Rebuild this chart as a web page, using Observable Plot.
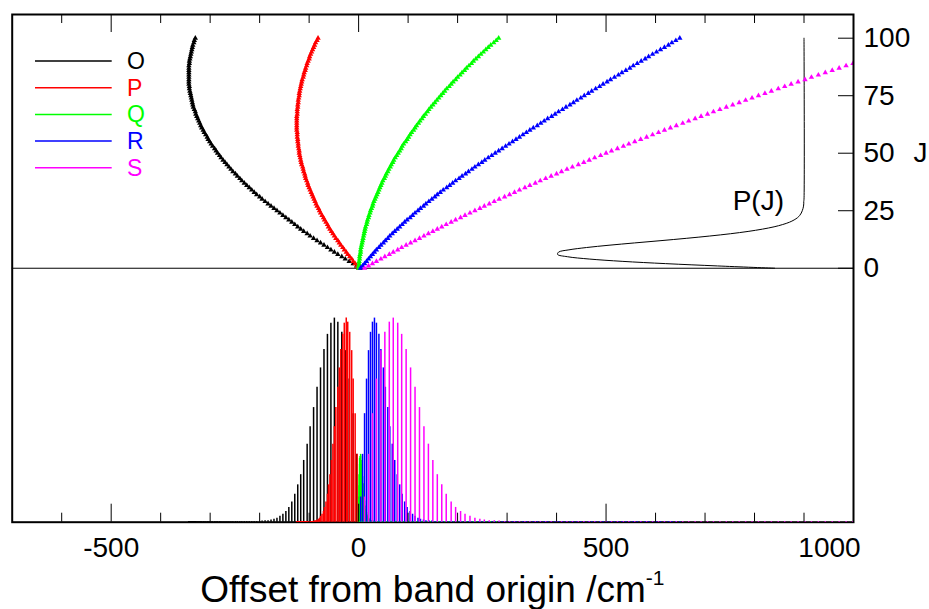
<!DOCTYPE html>
<html><head><meta charset="utf-8">
<script src="https://cdn.jsdelivr.net/npm/d3@7"></script>
<script src="https://cdn.jsdelivr.net/npm/@observablehq/plot@0.6"></script>
<style>
html,body{margin:0;padding:0;background:#fff;}
#chart{position:relative;width:929px;height:609px;}
</style></head><body><div id="chart"></div>
<script>
// ---- data ----
const J = d3.range(0, 101);
const branchNames = ["O", "P", "Q", "R", "S"];
const branchColors = ["#000000", "#ff0000", "#00ff00", "#0000ff", "#ff00ff"];

// line positions (cm^-1) for J = 0..100
const oBranch = [4, -4, -11, -19, -27, -34, -42, -49, -56, -63,
  -70, -77, -84, -91, -98, -104, -111, -117, -123, -129,
  -135, -141, -147, -153, -159, -165, -171, -177, -183, -189,
  -195, -200, -206, -211, -216, -221, -226, -231, -236, -240,
  -245, -249, -254, -258, -262, -266, -270, -274, -278, -281,
  -285, -288, -291, -295, -298, -301, -304, -306, -309, -312,
  -314, -317, -319, -321, -323, -325, -327, -329, -330, -332,
  -334, -335, -336, -337, -338, -339, -340, -341, -342, -342,
  -343, -343, -343, -343, -343, -343, -343, -343, -343, -342,
  -342, -341, -340, -339, -338, -337, -336, -335, -333, -332,
  -330];
const pBranch = [0, -3, -7, -11, -14, -18, -22, -25, -29, -32,
  -36, -39, -42, -46, -49, -52, -55, -58, -61, -63,
  -66, -69, -71, -74, -77, -79, -81, -84, -86, -88,
  -90, -92, -94, -96, -98, -100, -102, -103, -105, -107,
  -108, -109, -111, -112, -113, -115, -116, -117, -118, -119,
  -120, -120, -121, -122, -122, -123, -123, -124, -124, -124,
  -125, -125, -125, -125, -125, -125, -125, -124, -124, -124,
  -123, -123, -122, -122, -121, -120, -120, -119, -118, -117,
  -116, -115, -114, -112, -111, -110, -108, -107, -105, -104,
  -102, -100, -99, -97, -95, -93, -91, -89, -87, -84,
  -82];
const qBranch = [0, 0, 1, 1, 2, 2, 3, 4, 4, 5,
  6, 7, 8, 9, 10, 11, 12, 13, 14, 16,
  17, 18, 20, 21, 23, 24, 26, 28, 29, 31,
  33, 35, 37, 39, 41, 43, 45, 47, 49, 52,
  54, 56, 59, 61, 64, 66, 69, 71, 74, 77,
  80, 83, 86, 88, 91, 95, 98, 101, 104, 107,
  111, 114, 117, 121, 124, 128, 131, 135, 139, 142,
  146, 150, 154, 158, 162, 166, 170, 174, 178, 183,
  187, 191, 196, 200, 205, 209, 214, 218, 223, 228,
  232, 237, 242, 247, 252, 257, 262, 267, 273, 278,
  283];
const rBranch = [4, 8, 12, 16, 20, 24, 28, 32, 36, 41,
  45, 50, 54, 59, 63, 68, 73, 78, 83, 88,
  93, 98, 104, 109, 114, 120, 125, 131, 136, 142,
  148, 154, 159, 165, 171, 178, 184, 190, 196, 203,
  209, 216, 222, 229, 235, 242, 249, 255, 262, 269,
  276, 283, 290, 297, 304, 311, 318, 325, 332, 339,
  346, 353, 361, 368, 375, 382, 390, 397, 404, 412,
  419, 427, 434, 441, 449, 456, 464, 471, 479, 487,
  494, 502, 509, 517, 525, 532, 540, 548, 555, 563,
  571, 579, 586, 594, 602, 610, 618, 626, 633, 641,
  649];
const sBranch = [12, 20, 28, 36, 45, 53, 62, 70, 79, 87,
  96, 105, 114, 123, 132, 141, 150, 159, 168, 177,
  187, 196, 206, 215, 225, 235, 245, 254, 264, 274,
  284, 295, 305, 315, 325, 336, 346, 357, 367, 378,
  389, 400, 410, 421, 432, 444, 455, 466, 477, 489,
  500, 511, 523, 535, 546, 558, 570, 582, 594, 606,
  618, 630, 642, 655, 667, 680, 692, 705, 717, 730,
  743, 756, 769, 782, 795, 808, 821, 834, 848, 861,
  874, 888, 902, 915, 929, 943, 957, 971, 985, 999,
  1013, 1027, 1041, 1056, 1070, 1085, 1099, 1114, 1128, 1143,
  1158];

// relative stick intensities (% of tallest) for J = 0..30, zero beyond
const stickIntensity = [12, 33, 53, 70, 84, 93, 98, 100, 97.5, 92,
  84.5, 75.5, 66, 56, 46.6, 38, 30, 23, 18, 13.4,
  9.6, 6.9, 4.9, 3.6, 2.5, 1.6, 1.1, 0.7, 0.4, 0.3, 0.2];
const qStickIntensity = [4, 11, 17.5, 23, 28, 31, 32, 33, 32, 30,
  28, 25, 22, 18.5, 15, 12.5, 10, 7.6, 5.9, 4.4,
  3.2, 2.3, 1.6, 1.2, 0.8, 0.5, 0.4, 0.2, 0.1, 0.1, 0];

// population P(J), % of maximum, J = 0..30 (zero up to J = 100)
const population = [11.9, 35, 55.9, 73.5, 86.8, 95.6, 99.6, 99.2, 95, 87.9,
  78.8, 68.5, 57.8, 47.6, 38.1, 29.7, 22.6, 16.8, 12.1, 8.6,
  5.9, 4.0, 2.6, 1.7, 1.1, 0.7, 0.4, 0.2, 0.1, 0.1, 0];
const populationEndJ = 100;

const xTicksMajor = [-500, 0, 500, 1000];
const xTickLabels = ["-500", "0", "500", "1000"];
const xTicksMinor = [-600, -400, -300, -200, -100, 100, 200, 300, 400, 600, 700, 800, 900];
const jTicks = [0, 25, 50, 75, 100];
const jTickLabels = ["0", "25", "50", "75", "100"];
const xTitle = "Offset from band origin /cm";
const xTitleSup = "-1";
const jLabel = "J";
const pjLabel = "P(J)";

// ---- layout / style ----
const W = 929, H = 609, mL = 11.7, mR = 76, mT = 14, mB = 87.3;
const frameW = W - mL - mR, frameH = H - mT - mB;
const yMin = -110.4, yMax = 110.3;
const stickSpan = 88.4;           // stick height (J units) of a 100% line
const pjBase = 900, pjWidth = 500; // P(J) curve baseline and full width (cm^-1)
const FONT = "'Liberation Sans', Arial, Helvetica, sans-serif";

const positions = [oBranch, pBranch, qBranch, rBranch, sBranch];
const intens = [stickIntensity, stickIntensity, qStickIntensity, stickIntensity, stickIntensity];
const branches = branchNames.map((name, i) => ({
  name, color: branchColors[i],
  points: J.map(j => ({J: j, x: positions[i][j], I: intens[i][j] ?? 0}))
}));
const popPoints = population.map((p, j) => ({J: j, p})).concat([{J: populationEndJ, p: 0}]);

const marks = [];
marks.push(Plot.ruleY([0], {stroke: "black", strokeWidth: 1}));
marks.push(Plot.line(popPoints, {x: d => pjBase - pjWidth * d.p / 100, y: "J", stroke: "black", strokeWidth: 1, curve: "catmull-rom"}));
for (const b of branches) {
  marks.push(Plot.dot(b.points, {x: "x", y: "J", symbol: "triangle", r: 2, fill: b.color, stroke: "none", clip: true}));
}
marks.push(Plot.frame({stroke: "black", strokeWidth: 2}));
for (const b of branches) {
  marks.push(Plot.ruleX(b.points, {x: "x", y1: yMin, y2: d => yMin + stickSpan * d.I / 100,
    stroke: b.color, strokeWidth: 1.5, strokeLinecap: "square", clip: true}));
}
marks.push(Plot.tickX(xTicksMinor, {x: d => d, insetTop: frameH - 9, stroke: "black"}));
marks.push(Plot.tickX(xTicksMinor, {x: d => d, insetBottom: frameH - 9, stroke: "black"}));
marks.push(Plot.tickX(xTicksMajor, {x: d => d, insetTop: frameH - 18, stroke: "black"}));
marks.push(Plot.tickX(xTicksMajor, {x: d => d, insetBottom: frameH - 18, stroke: "black"}));
marks.push(Plot.tickY(jTicks, {y: d => d, insetLeft: frameW - 15, stroke: "black"}));
const fmtX = d => xTickLabels[xTicksMajor.indexOf(d)];
marks.push(Plot.axisX(xTicksMajor.slice(0, 3), {anchor: "bottom", tickSize: 0, tickPadding: 15, fontSize: 28, tickFormat: fmtX, label: null}));
marks.push(Plot.axisX(xTicksMajor.slice(3), {anchor: "bottom", tickSize: 0, tickPadding: 15, fontSize: 28, tickFormat: fmtX, label: null, dx: -24}));
marks.push(Plot.axisY(jTicks, {anchor: "right", tickSize: 0, tickPadding: 10, fontSize: 28, tickFormat: d => jTickLabels[jTicks.indexOf(d)], label: null}));
marks.push(Plot.text([jLabel], {text: d => d, y: jTicks[2], frameAnchor: "right", dx: 60, textAnchor: "start", fontSize: 28}));
marks.push(Plot.text([pjLabel], {text: d => d, x: pjBase, y: 29, textAnchor: "end", dx: -20, fontSize: 28}));

const svg = Plot.plot({
  width: W, height: H, marginLeft: mL, marginRight: mR, marginTop: mT, marginBottom: mB,
  x: {domain: [-700, 1000]},
  y: {domain: [yMin, yMax]},
  style: {fontFamily: FONT, fontSize: "28px", background: "white", color: "black", overflow: "visible"},
  marks
});

const s = d3.select(svg);
const lg = s.append("g").attr("font-family", FONT).attr("text-anchor", "start");
branches.forEach((b, i) => {
  const y = 61 + i * 26.7;
  lg.append("line").attr("x1", 35).attr("x2", 111.7).attr("y1", y).attr("y2", y)
    .attr("stroke", b.color).attr("stroke-width", 1.5);
  lg.append("text").attr("x", 127).attr("y", y).attr("dy", "0.35em").attr("text-anchor", "start")
    .attr("fill", b.color).attr("font-size", 23).text(b.name);
});
const t = s.append("text").attr("x", mL + frameW / 2).attr("y", 601.7)
  .attr("text-anchor", "middle").attr("font-family", FONT).attr("font-size", 37).attr("fill", "black");
t.append("tspan").text(xTitle);
t.append("tspan").attr("font-size", 21).attr("dy", -17).text(xTitleSup);

document.getElementById("chart").appendChild(svg);
</script></body></html>
